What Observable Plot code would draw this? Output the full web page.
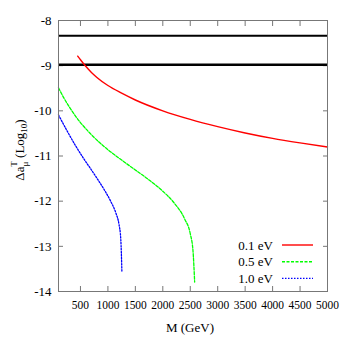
<!DOCTYPE html>
<html><head><meta charset="utf-8">
<script src="https://cdn.jsdelivr.net/npm/d3@7"></script>
<script src="https://cdn.jsdelivr.net/npm/@observablehq/plot@0.6"></script>
<style>body{margin:0;background:#fff} #chart{position:relative;width:346px;height:346px}
#chart svg text{font-family:'Liberation Serif','Times New Roman',serif !important}</style>
</head><body><div id="chart"></div>
<script>
const seriesNames = ["0.1 eV", "0.5 eV", "1.0 eV"];
const seriesColors = ["#ff0000", "#00ff00", "#0000ff"];
const seriesDash = [null, "3,1.5", "1.5,1.5"];

const massRed = [450, 500, 600, 700, 800, 1000, 1250, 1500, 2000, 2500, 3000, 3500, 4000, 4500, 5000];
const valRed  = [-8.79, -8.87, -9.02, -9.15, -9.26, -9.44, -9.61, -9.76, -10.00, -10.19, -10.35, -10.49, -10.61, -10.71, -10.80];

const massGreen = [100, 200, 300, 400, 500, 600, 750, 1000, 1250, 1500, 1750, 2000, 2200, 2400, 2500, 2550, 2580];
const valGreen  = [-9.49, -9.72, -9.92, -10.10, -10.26, -10.40, -10.59, -10.86, -11.09, -11.31, -11.53, -11.78, -12.03, -12.40, -12.72, -13.10, -13.79];

const massBlue = [100, 250, 400, 550, 700, 820, 950, 1050, 1150, 1200, 1235, 1255];
const valBlue  = [-10.09, -10.43, -10.75, -11.04, -11.31, -11.53, -11.78, -12.00, -12.28, -12.50, -12.85, -13.57];

const boundLines = [-8.34, -8.98];
const boundWidths = [2, 2.5];

const xTicks = [500, 1000, 1500, 2000, 2500, 3000, 3500, 4000, 4500, 5000];
const yTicks = [-14, -13, -12, -11, -10, -9, -8];

const masses = [massRed, massGreen, massBlue];
const vals = [valRed, valGreen, valBlue];
const rows = [];
seriesNames.forEach((s, i) => masses[i].forEach((m, j) => rows.push({series: s, M: m, v: vals[i][j]})));

const axisStroke = "#777";
const font = "'Liberation Serif', 'Times New Roman', serif";
const chart = Plot.plot({
  width: 346, height: 346,
  marginLeft: 58, marginRight: 19, marginTop: 20, marginBottom: 55,
  x: {domain: [100, 5000]},
  y: {domain: [-14, -8]},
  style: {fontFamily: font, fontSize: "13px", background: "white", color: "black"},
  marks: [
    Plot.axisX(xTicks, {anchor: "bottom", tickSize: -5, tickPadding: 13, stroke: axisStroke, label: null, tickFormat: d => String(d)}),
    Plot.axisX(xTicks, {anchor: "top", tickSize: -5, stroke: axisStroke, label: null, tickFormat: () => ""}),
    Plot.axisY(yTicks, {anchor: "left", tickSize: -5, tickPadding: 12, stroke: axisStroke, label: null, tickFormat: d => String(d)}),
    Plot.axisY(yTicks, {anchor: "right", tickSize: -5, stroke: axisStroke, label: null, tickFormat: () => ""}),
    Plot.ruleY(boundLines, {y: d => d, stroke: "black", strokeWidth: (d, i) => boundWidths[i]}),
    ...seriesNames.map((s, i) => Plot.line(rows.filter(r => r.series === s), {
      x: "M", y: "v", stroke: seriesColors[i], strokeWidth: i === 0 ? 1.4 : 1.3,
      strokeDasharray: seriesDash[i] || undefined, curve: "monotone-x"
    })),
    Plot.frame({stroke: axisStroke})
  ]
});
document.getElementById("chart").appendChild(chart);

const svg = d3.select(chart);
svg.selectAll("text").attr("font-family", font);
// condense x tick labels slightly, like the reference
svg.selectAll("g[aria-label='x-axis tick label'] text").each(function() {
  const w = this.getComputedTextLength();
  if (w > 0) { this.setAttribute("textLength", (w * 0.88).toFixed(1)); this.setAttribute("lengthAdjust", "spacingAndGlyphs"); }
});
// y-axis title
const yt = svg.append("text")
  .attr("transform", "translate(24,150) rotate(-90)")
  .attr("text-anchor", "middle")
  .attr("font-family", font)
  .attr("font-size", 13)
  .attr("fill", "black");
yt.append("tspan").text("\u0394a");
yt.append("tspan").attr("dy", 4).attr("font-size", 9).text("\u03bc");
yt.append("tspan").attr("dx", -5).attr("dy", -11).attr("font-size", 9).text("T");
yt.append("tspan").attr("dy", 7).text("\u00a0(Log");
yt.append("tspan").attr("dy", 3).attr("font-size", 9).text("10");
yt.append("tspan").attr("dy", -3).text(")");

// x-axis title
svg.append("text")
  .attr("x", 190).attr("y", 332)
  .attr("text-anchor", "middle")
  .attr("font-family", font)
  .attr("font-size", 13)
  .attr("fill", "black")
  .text("M (GeV)");

// legend
const lg = svg.append("g").attr("font-family", font).attr("font-size", 13);
seriesNames.forEach((s, i) => {
  const y = 245 + i * 16.7;
  lg.append("text").attr("x", 273).attr("y", y).attr("dy", "0.35em")
    .attr("text-anchor", "end").attr("fill", "black").text(s);
  lg.append("line").attr("x1", 282).attr("x2", 313).attr("y1", y).attr("y2", y)
    .attr("stroke", seriesColors[i]).attr("stroke-width", 1.4)
    .attr("stroke-dasharray", seriesDash[i]);
});
</script>
</body></html>
